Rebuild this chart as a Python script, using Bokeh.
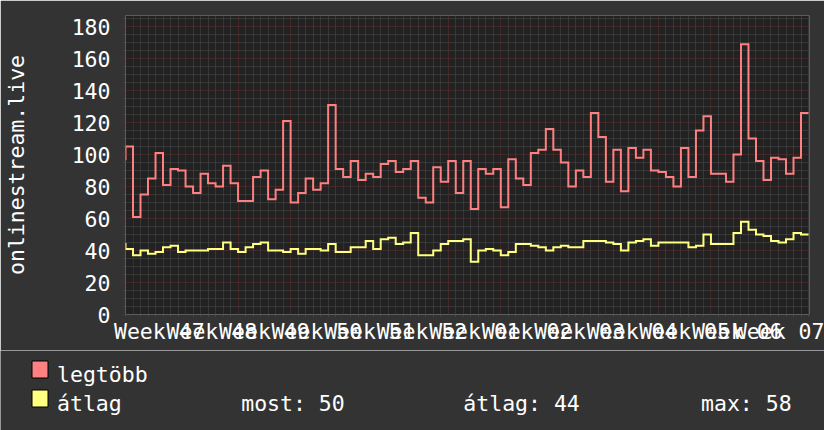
import numpy as np
from bokeh.plotting import figure
from bokeh.layouts import column, row
from bokeh.models import Range1d, FixedTicker, Grid, AllLabels, ColumnDataSource
from bokeh.core.properties import value
from bokeh.embed import file_html
from bokeh.resources import INLINE

# ---- data (daily values; first entry is the day just before the visible window)
legtobb = [97,
           105, 61, 75, 85, 101, 81, 91, 90, 80, 76,
           88, 82, 80, 93, 82, 71, 71, 86, 90, 72,
           78, 121, 70, 76, 85, 78, 82, 131, 91, 86,
           96, 84, 88, 86, 94, 96, 89, 91, 96, 73,
           70, 92, 83, 96, 76, 96, 66, 91, 88, 91,
           67, 97, 85, 81, 101, 103, 116, 103, 95, 80,
           90, 86, 126, 111, 83, 103, 77, 104, 98, 103,
           90, 89, 86, 80, 104, 86, 115, 124, 88, 88,
           83, 100, 169, 110, 96, 84, 98, 97, 88, 98, 126]
atlag = [44,
         41, 37, 40, 38, 39, 42, 43, 39, 40, 40,
         40, 41, 41, 45, 41, 39, 42, 44, 45, 40,
         40, 39, 41, 38, 41, 41, 40, 44, 39, 39,
         42, 42, 46, 41, 47, 48, 44, 45, 51, 37,
         37, 40, 44, 46, 46, 47, 33, 40, 41, 40,
         37, 39, 44, 44, 43, 42, 40, 42, 43, 42,
         42, 46, 46, 46, 45, 44, 40, 45, 46, 47,
         43, 45, 45, 45, 45, 42, 43, 50, 44, 44,
         44, 51, 58, 53, 50, 49, 46, 45, 47, 51, 50]
week_labels = ["Week 47", "Week 48", "Week 49", "Week 50", "Week 51", "Week 52",
               "Week 01", "Week 02", "Week 03", "Week 04", "Week 05", "Week 06", "Week 07"]
y_ticks = [0, 20, 40, 60, 80, 100, 120, 140, 160, 180]
series_names = ["legtöbb", "átlag"]
gprint_texts = ["most: 50", "átlag: 44", "max: 58"]
y_title = "onlinestream.live"

RED = "#FF8080"
YEL = "#FFFF80"
BACK = "#333333"
CANVAS = "#222222"
FONT = "DejaVu Sans Mono"
FS = "21.5px"

n_days = len(legtobb) - 1          # 91 visible days
xs = list(range(-1, n_days + 1))   # day index, -1 .. 91
src = ColumnDataSource(dict(x=xs, red=legtobb + [legtobb[-1]], yel=atlag + [atlag[-1]]))

p = figure(width=824, height=350, output_backend="svg", toolbar_location=None,
           x_range=Range1d(0, 91.13), y_range=Range1d(0, 186.9),
           min_border_left=124, min_border_right=15, min_border_top=15, min_border_bottom=36,
           background_fill_color=CANVAS, border_fill_color=BACK,
           outline_line_color=None)
p.xgrid.visible = False
p.ygrid.visible = False

# ---- grids
week_starts = [d for d in range(0, n_days + 1) if (d - 1) % 7 == 0]
day_minor = [d for d in range(0, n_days + 1) if (d - 1) % 7 != 0]
y_minor = [v for v in range(0, 190, 5) if v % 20 != 0]
GRID_C = "#4c4c4c"
MGRID_C = "#633030"
for dim, ticks, col in [(0, day_minor, GRID_C), (1, y_minor, GRID_C),
                        (0, week_starts, MGRID_C), (1, y_ticks, MGRID_C)]:
    p.add_layout(Grid(dimension=dim, ticker=FixedTicker(ticks=ticks),
                      grid_line_color=col, grid_line_dash="1 1", grid_line_width=1))

# ---- series
p.step("x", "red", source=src, mode="after", line_color=RED, line_width=2, line_join="miter")
p.step("x", "yel", source=src, mode="after", line_color=YEL, line_width=2, line_join="miter")

# ---- axes
label_pos = [w + 3.5 for w in week_starts[:len(week_labels)]]
xa = p.xaxis[0]
xa.ticker = FixedTicker(ticks=label_pos, minor_ticks=day_minor)
xa.major_label_overrides = {pos: lab for pos, lab in zip(label_pos, week_labels)}
xa.major_label_policy = AllLabels()
xa.major_tick_line_color = None
xa.major_tick_out = 0
xa.major_tick_in = 0
xa.minor_tick_line_color = GRID_C
xa.minor_tick_out = 2
xa.minor_tick_in = 0
xa.major_label_standoff = 2
xa.axis_line_color = None

ya = p.yaxis[0]
ya.ticker = FixedTicker(ticks=y_ticks, minor_ticks=y_minor)
ya.major_tick_line_color = MGRID_C
ya.minor_tick_line_color = GRID_C
ya.major_tick_out = 2
ya.major_tick_in = 0
ya.minor_tick_out = 2
ya.minor_tick_in = 0
ya.major_label_standoff = 13
ya.axis_line_color = None
ya.axis_label = y_title
ya.axis_label_standoff = 40
ya.axis_label_text_line_height = 1.0
ya.axis_label_text_font = FONT
ya.axis_label_text_font_size = FS
ya.axis_label_text_font_style = "normal"
ya.axis_label_text_color = "#FFFFFF"

for ax in (xa, ya):
    ax.major_label_text_font = FONT
    ax.major_label_text_font_size = FS
    ax.major_label_text_color = "#FFFFFF"

# ---- legend strip (pixel-like coordinates, y downward)
leg = figure(width=824, height=80, output_backend="svg", toolbar_location=None,
             x_range=Range1d(0, 824), y_range=Range1d(80, 0),
             x_axis_type=None, y_axis_type=None,
             min_border_left=0, min_border_right=0, min_border_top=0, min_border_bottom=0,
             background_fill_color=BACK, border_fill_color=BACK, outline_line_color=None)
leg.grid.visible = False

row_base = [24.0, 52.6]
leg.quad(left=[31.5, 31.5], right=[47.5, 47.5], top=[10.5, 39.5], bottom=[27.5, 56.5],
         fill_color=[RED, YEL], line_color="#000000", line_width=1)
leg.text(x=[56.5, 56.5], y=row_base, text=series_names, text_baseline="alphabetic",
         text_font=value(FONT), text_font_size=FS, text_color="#FFFFFF")
leg.text(x=[240.7, 462.8, 700.5], y=[row_base[1]] * 3, text=gprint_texts,
         text_baseline="alphabetic", text_font=value(FONT), text_font_size=FS,
         text_color="#FFFFFF")

layout = column(p, row(leg, spacing=0), spacing=0)
open("out.html", "w").write(file_html(layout, INLINE))
